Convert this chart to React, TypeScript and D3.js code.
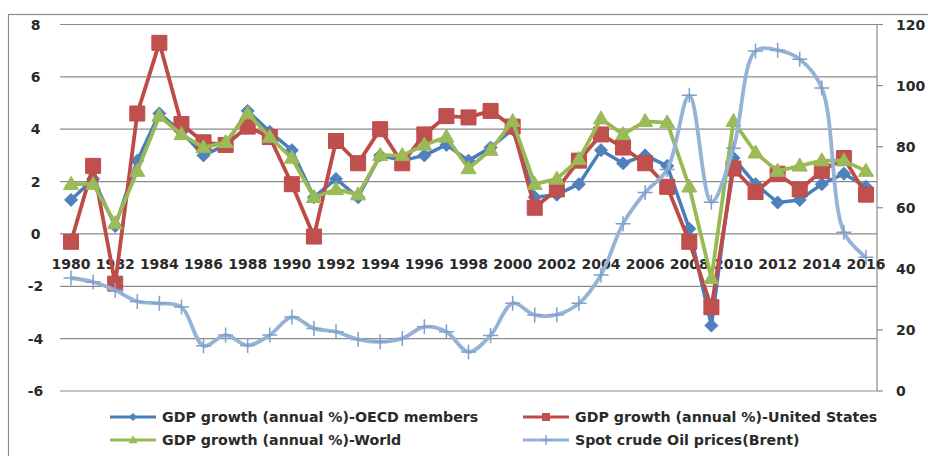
import React from "react";
import * as d3 from "d3";

const years = [1980,1981,1982,1983,1984,1985,1986,1987,1988,1989,1990,1991,1992,1993,1994,1995,1996,1997,1998,1999,2000,2001,2002,2003,2004,2005,2006,2007,2008,2009,2010,2011,2012,2013,2014,2015,2016];
const oecd = [1.3,2.1,0.3,2.8,4.6,3.9,3.0,3.4,4.7,3.9, 3.2,1.4,2.1,1.4,3.0,2.8,3.0,3.4,2.8,3.3, 4.0,1.4,1.5,1.9,3.2,2.7,3.0,2.6,0.2,-3.5, 2.9,1.9,1.2,1.3,1.9,2.3,1.8];
const usa = [-0.3,2.6,-1.9,4.6,7.3,4.2,3.5,3.4,4.1,3.7, 1.9,-0.1,3.55,2.7,4.0,2.7,3.8,4.5,4.45,4.7, 4.1,1.0,1.7,2.8,3.8,3.3,2.7,1.8,-0.3,-2.8, 2.5,1.6,2.3,1.7,2.4,2.9,1.5];
const world = [1.9,1.9,0.4,2.4,4.5,3.8,3.3,3.5,4.6,3.7, 2.9,1.4,1.7,1.5,3.0,3.0,3.4,3.7,2.5,3.2, 4.3,1.9,2.1,2.85,4.4,3.8,4.3,4.25,1.8,-1.7, 4.3,3.1,2.4,2.6,2.8,2.8,2.4];
const oil = [37,35.7,33,29.3,28.7,27.5,14.8,18.3,14.9,18.3, 24.2,20.5,19.4,16.9,16.1,17.2,21,19.4,12.8,18.2, 28.7,24.9,25,28.7,38,54.8,65,72.5,96.8,61.8, 79.5,111.3,111.6,108.6,99.2,52,43.8];
const leftTicks = [-6,-4,-2,0,2,4,6,8];
const rightTicks = [0,20,40,60,80,100,120];
const labelYears = [1980,1982,1984,1986,1988,1990,1992,1994,1996,1998,2000,2002,2004,2006,2008,2010,2012,2014,2016];
const seriesNames = ["GDP growth (annual %)-OECD members","GDP growth (annual %)-United States","GDP growth (annual %)-World","Spot crude  Oil prices(Brent)"];

const FONT = "'DejaVu Sans', Verdana, sans-serif";
const C_OECD = "#4A7EBB", C_OECD_M = "#4F81BD";
const C_US = "#BE4B48", C_US_M = "#C0504D";
const C_W = "#98B954", C_W_M = "#9BBB59";
const C_OIL = "#95B3D7", C_OIL_M = "#7F9FCC";

function diamond(cx: number, cy: number, r: number) {
  return `M${cx},${cy - r}L${cx + r},${cy}L${cx},${cy + r}L${cx - r},${cy}Z`;
}
function square(cx: number, cy: number, s: number) {
  return `M${cx - s / 2},${cy - s / 2}h${s}v${s}h${-s}Z`;
}
function tri(cx: number, cy: number, w: number, h: number) {
  return `M${cx},${cy - h * 0.6}L${cx + w / 2},${cy + h * 0.4}L${cx - w / 2},${cy + h * 0.4}Z`;
}
function plus(cx: number, cy: number, a: number) {
  return `M${cx - a},${cy}H${cx + a}M${cx},${cy - a}V${cy + a}`;
}

export default function App() {
  const x = d3.scaleBand<number>().domain(years).range([60, 877]);
  const cx = (yr: number) => (x(yr) as number) + x.bandwidth() / 2;
  const yL = d3.scaleLinear().domain([-6, 8]).range([391, 24.5]);
  const yR = d3.scaleLinear().domain([0, 120]).range([391, 24.5]);

  const lineL = d3.line<number>().x((_, i) => cx(years[i])).y((d) => yL(d));
  const lineR = d3.line<number>().x((_, i) => cx(years[i])).y((d) => yR(d)).curve(d3.curveCatmullRom.alpha(0.5));

  const legendRows = [
    { x: 110, y: 417, name: seriesNames[0], kind: "d" },
    { x: 523, y: 417, name: seriesNames[1], kind: "s" },
    { x: 110, y: 440, name: seriesNames[2], kind: "t" },
    { x: 523, y: 440, name: seriesNames[3], kind: "p" },
  ];

  return (
    <svg width={928} height={456} style={{ position: "absolute", left: 0, top: 0, background: "#fff" }} fontFamily={FONT}>
      <rect x={0} y={0} width={928} height={456} fill="#fff" />
      <rect x={8.5} y={14.5} width={940} height={460} fill="none" stroke="#8C8C8C" strokeWidth={1.2} />
      {leftTicks.map((t) => (
        <line key={t} x1={60} x2={877} y1={yL(t)} y2={yL(t)} stroke="#8A8A8A" strokeWidth={1.2} />
      ))}
      <line x1={877} x2={877} y1={yR(120)} y2={yR(0)} stroke="#8A8A8A" strokeWidth={1.2} />
      {rightTicks.map((t) => (
        <g key={t}>
          <line x1={877} x2={883} y1={yR(t)} y2={yR(t)} stroke="#8A8A8A" strokeWidth={1.2} />
          <text x={896} y={yR(t)} dy="0.36em" fontSize={14} fontWeight="bold" fill="#2a2a2a">{t}</text>
        </g>
      ))}
      {leftTicks.map((t) => (
        <text key={t} x={35.5} y={yL(t)} dy="0.36em" textAnchor="middle" fontSize={14} fontWeight="bold" fill="#2a2a2a">{t}</text>
      ))}
      {labelYears.map((yr) => (
        <text key={yr} x={cx(yr)} y={yL(0) + 30} dy="0.36em" textAnchor="middle" fontSize={14} fontWeight="bold" fill="#2a2a2a">{yr}</text>
      ))}

      <path d={lineL(oecd) as string} fill="none" stroke={C_OECD} strokeWidth={3.5} strokeLinejoin="round" />
      {oecd.map((v, i) => (
        <path key={i} d={diamond(cx(years[i]), yL(v), 6.5)} fill={C_OECD_M} stroke={C_OECD} strokeWidth={1} />
      ))}
      <path d={lineL(usa) as string} fill="none" stroke={C_US} strokeWidth={3.8} strokeLinejoin="round" />
      {usa.map((v, i) => (
        <path key={i} d={square(cx(years[i]), yL(v), 15)} fill={C_US_M} stroke={C_US} strokeWidth={1} />
      ))}
      <path d={lineL(world) as string} fill="none" stroke={C_W} strokeWidth={3.8} strokeLinejoin="round" />
      {world.map((v, i) => (
        <path key={i} d={tri(cx(years[i]), yL(v), 15, 13)} fill={C_W_M} stroke={C_W} strokeWidth={1} />
      ))}
      <path d={lineR(oil) as string} fill="none" stroke={C_OIL} strokeWidth={3.8} strokeLinejoin="round" />
      {oil.map((v, i) => (
        <path key={i} d={plus(cx(years[i]), yR(v), 7.5)} fill="none" stroke={C_OIL_M} strokeWidth={1.5} />
      ))}

      {legendRows.map((r, i) => {
        const col = r.kind === "d" ? C_OECD : r.kind === "s" ? C_US : r.kind === "t" ? C_W : C_OIL;
        const mc = r.kind === "d" ? C_OECD_M : r.kind === "s" ? C_US_M : r.kind === "t" ? C_W_M : C_OIL_M;
        const mx = r.x + 23;
        return (
          <g key={i}>
            <line x1={r.x} x2={r.x + 46} y1={r.y} y2={r.y} stroke={col} strokeWidth={3} />
            {r.kind === "d" && <path d={diamond(mx, r.y, 4)} fill={mc} />}
            {r.kind === "s" && <path d={square(mx, r.y, 8)} fill={mc} />}
            {r.kind === "t" && <path d={tri(mx, r.y, 9, 8)} fill={mc} />}
            {r.kind === "p" && <path d={plus(mx, r.y, 5)} stroke={mc} strokeWidth={1.3} fill="none" />}
            <text x={r.x + 52} y={r.y} dy="0.36em" fontSize={14.2} fontWeight="bold" fill="#2a2a2a">{r.name}</text>
          </g>
        );
      })}
    </svg>
  );
}
